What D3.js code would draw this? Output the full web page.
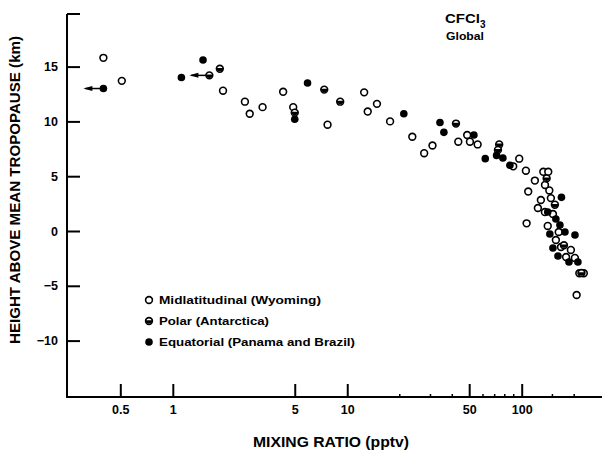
<!DOCTYPE html>
<html><head><meta charset="utf-8">
<script src="https://cdn.jsdelivr.net/npm/d3@7/dist/d3.min.js"></script>
<style>
html,body{margin:0;padding:0;background:#fff;}
text{font-family:"Liberation Sans",Arial,sans-serif;font-weight:bold;fill:#000;}
</style></head>
<body><svg id="c" width="609" height="455"></svg>
<script>
const xTicks = [0.5, 1, 5, 10, 50, 100];
const xMinor = [20, 30, 40, 60, 70, 80, 90, 150, 200];
const yTicks = [-10, -5, 0, 5, 10, 15];
const seriesNames = ["Midlatitudinal (Wyoming)", "Polar (Antarctica)", "Equatorial (Panama and Brazil)"];
// [mixing ratio pptv, height km]
const midlat = [[0.40,15.8],[0.51,13.7],[1.94,12.8],[2.59,11.8],[2.76,10.7],[3.27,11.3],[4.29,12.7],[4.90,11.3],[7.71,9.7],[12.5,12.65],[13.1,10.9],[14.8,11.6],[17.6,10.0],[23.6,8.6],[27.6,7.1],[30.8,7.8],[43.3,8.15],[48.7,8.76],[50.5,8.15],[55.9,7.9],[89.4,5.9],[96.8,6.6],[105.7,5.5],[119,4.6],[109,3.6],[144,3.7],[133,5.4],[142,5.4],[106.7,0.7],[214,-3.86],[227,-3.86],[206.5,-5.84],[128.8,2.83],[147,3.0],[135.8,1.73],[123.8,2.1],[151,1.55],[157,-0.82],[168,-1.46],[191.4,-1.73],[179.6,-2.37],[201.8,-2.46],[163,-0.09],[141,0.46],[136,4.2]];
const polar = [[1.62,14.2],[1.86,14.8],[5.0,10.8],[7.38,12.9],[9.11,11.8],[42.0,9.8],[74.3,7.9],[73.1,7.4],[139,4.8],[155,2.4],[174.6,-1.3],[220,-3.83]];
const equat = [[0.40,13.0],[1.12,14.0],[1.49,15.6],[5.0,10.2],[5.92,13.5],[21.1,10.7],[34.0,9.9],[35.8,9.0],[53.2,8.76],[61.8,6.6],[71.8,6.9],[78,6.66],[85.6,6.0],[169,3.07],[141,1.73],[157,1.1],[165.6,0.55],[177,-0.09],[202,-0.36],[151,-1.55],[161.4,-2.28],[186.6,-2.83],[210,-2.83],[145,-0.27]];
// upper-limit points drawn with left arrows: [x, y, series]
const upperLimits = [[0.40,13.0,"equat"],[1.62,14.2,"polar"]];

const svg = d3.select("#c");
const x = d3.scaleLog().domain([0.5, 100]).range([120.3, 521.7]);
const y = d3.scaleLinear().domain([-10, 15]).range([340.6, 66.6]);
const X0 = 67, X1 = 602, Ytop = y(19.8), Ybot = 397;

// axes
const gx = svg.append("g").attr("transform", `translate(0,${Ybot})`)
  .call(d3.axisBottom(x).tickValues(xTicks).tickFormat(d3.format("")).tickSize(-13).tickSizeOuter(0).tickPadding(8));
gx.select(".domain").remove();
gx.selectAll(".tick line").attr("stroke","#000").attr("stroke-width",2);
gx.selectAll(".tick text").attr("font-size",12.5).style("font-family","Liberation Sans, Arial, sans-serif").style("font-weight","bold");
svg.append("g").attr("transform", `translate(0,${Ybot})`)
  .selectAll("line").data(xMinor).join("line")
  .attr("x1", d=>x(d)).attr("x2", d=>x(d)).attr("y1",0).attr("y2",-3)
  .attr("stroke","#000").attr("stroke-width",1.5);

const gy = svg.append("g").attr("transform", `translate(${X0},0)`)
  .call(d3.axisLeft(y).tickValues(yTicks).tickSize(-13).tickSizeOuter(0).tickPadding(9));
gy.select(".domain").remove();
gy.selectAll(".tick line").attr("stroke","#000").attr("stroke-width",2);
gy.selectAll(".tick text").attr("font-size",12.5).style("font-family","Liberation Sans, Arial, sans-serif").style("font-weight","bold");

svg.append("line").attr("x1",X0).attr("x2",X0).attr("y1",Ytop).attr("y2",Ybot+1).attr("stroke","#000").attr("stroke-width",2);
svg.append("line").attr("x1",X0-1).attr("x2",X1).attr("y1",Ybot).attr("y2",Ybot).attr("stroke","#000").attr("stroke-width",2);
svg.append("line").attr("x1",X0).attr("x2",X0+13).attr("y1",Ytop).attr("y2",Ytop).attr("stroke","#000").attr("stroke-width",2);

// labels
svg.append("text").attr("x",331).attr("y",447).attr("text-anchor","middle").attr("font-size",14)
  .attr("textLength",156).attr("lengthAdjust","spacingAndGlyphs").text("MIXING RATIO (pptv)");
svg.append("text").attr("transform","translate(20,190) rotate(-90)").attr("text-anchor","middle").attr("font-size",14)
  .attr("textLength",308).attr("lengthAdjust","spacingAndGlyphs").text("HEIGHT ABOVE MEAN TROPOPAUSE (km)");
const t1 = svg.append("text").attr("x",445).attr("y",23).attr("font-size",12);
t1.append("tspan").attr("textLength",35).attr("lengthAdjust","spacingAndGlyphs").text("CFCl");
t1.append("tspan").attr("dy",5).attr("font-size",10).text("3");
svg.append("text").attr("x",446).attr("y",40).attr("font-size",11.5)
  .attr("textLength",38).attr("lengthAdjust","spacingAndGlyphs").text("Global");

// markers
const R = 3.4;
function openC(g, cx, cy){ g.append("circle").attr("cx",cx).attr("cy",cy).attr("r",R).attr("fill","#fff").attr("stroke","#000").attr("stroke-width",1.6); }
function fillC(g, cx, cy){ g.append("circle").attr("cx",cx).attr("cy",cy).attr("r",R+0.4).attr("fill","#000"); }
function polarC(g, cx, cy){
  g.append("circle").attr("cx",cx).attr("cy",cy).attr("r",R).attr("fill","#fff").attr("stroke","#000").attr("stroke-width",1.6);
  g.append("path").attr("d",`M${cx-R},${cy} A${R},${R} 0 0 0 ${cx+R},${cy} Z`).attr("fill","#000").attr("transform",`translate(0,-0.8)`);
}
const gp = svg.append("g");
upperLimits.forEach(([vx,vy])=>{
  const cx = x(vx), cy = y(vy);
  gp.append("line").attr("x1",cx-18).attr("x2",cx-3).attr("y1",cy).attr("y2",cy).attr("stroke","#000").attr("stroke-width",1.5);
  gp.append("path").attr("d",`M${cx-20},${cy} L${cx-11},${cy-2.5} L${cx-11},${cy+2.5} Z`).attr("fill","#000");
});
midlat.forEach(([a,b])=>openC(gp, x(a), y(b)));
polar.forEach(([a,b])=>polarC(gp, x(a), y(b)));
equat.forEach(([a,b])=>fillC(gp, x(a), y(b)));

// legend
const lg = svg.append("g");
const legW = [162, 110, 196];
const rows = [[seriesNames[0],openC],[seriesNames[1],polarC],[seriesNames[2],fillC]];
rows.forEach(([name,fn],i)=>{
  const cy = 300 + i*21;
  fn(lg, 149, cy);
  lg.append("text").attr("x",159).attr("y",cy+4).attr("font-size",10.5)
    .attr("textLength",legW[i]).attr("lengthAdjust","spacingAndGlyphs").text(name);
});
</script></body></html>
